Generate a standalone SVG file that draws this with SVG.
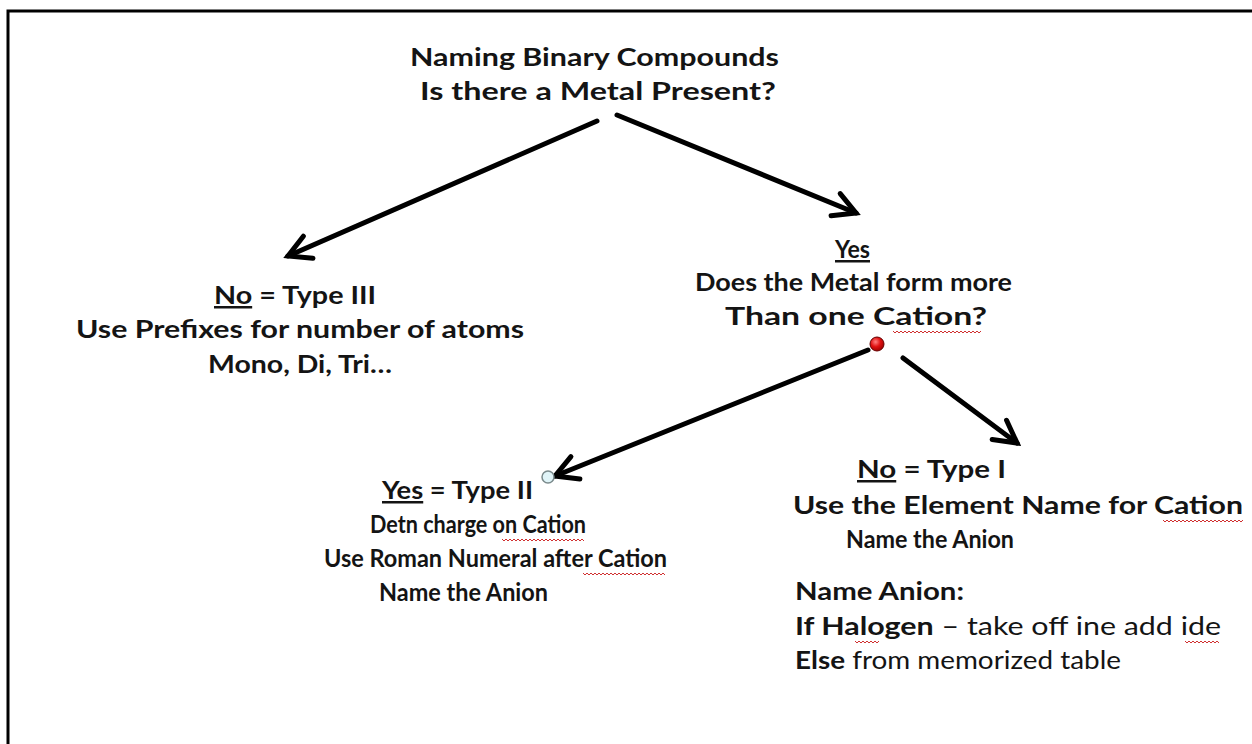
<svg xmlns="http://www.w3.org/2000/svg" width="1252" height="744" viewBox="0 0 1252 744">
<defs>
<style>
.t{font-family:Lato,"Open Sans","Liberation Sans",sans-serif;font-size:25px;font-weight:bold;fill:#141414}
.n{font-weight:normal}
.u{text-decoration:underline}
.ar{fill:none;stroke:#000;stroke-width:5;stroke-linecap:round}
.sq{fill:none;stroke:#d03030;stroke-width:1}
</style>
<marker id="ah" markerUnits="userSpaceOnUse" markerWidth="40" markerHeight="40" viewBox="-30 -20 40 40" refX="0" refY="0" orient="auto">
<path d="M-22,-12 L0,0 L-22,12" fill="none" stroke="#000" stroke-width="5" stroke-linecap="round" stroke-linejoin="miter"/>
</marker>
<radialGradient id="rg" cx="0.4" cy="0.35" r="0.7">
<stop offset="0" stop-color="#ff8080"/>
<stop offset="0.5" stop-color="#e01010"/>
<stop offset="1" stop-color="#900"/>
</radialGradient>
</defs>
<rect width="1252" height="744" fill="#fff"/>
<path d="M8,760 L8,11 L1262,11" fill="none" stroke="#000" stroke-width="3"/>

<g id="connectors">
<line class="ar" x1="597" y1="121" x2="288" y2="256" marker-end="url(#ah)"/>
<line class="ar" x1="617" y1="115" x2="856" y2="213" marker-end="url(#ah)"/>
<line class="ar" x1="868" y1="350" x2="555" y2="476" marker-end="url(#ah)"/>
<line class="ar" x1="903" y1="358" x2="1017" y2="443" marker-end="url(#ah)"/>
</g>

<g id="title">
<text class="t" x="410" y="66" textLength="369" lengthAdjust="spacingAndGlyphs">Naming Binary Compounds</text>
<text class="t" x="420" y="100" textLength="356" lengthAdjust="spacingAndGlyphs">Is there a Metal Present?</text>
</g>

<g id="node-yes">
<text class="t" x="835" y="258" textLength="35" lengthAdjust="spacingAndGlyphs"><tspan class="u">Yes</tspan></text>
<text class="t" x="695" y="291" textLength="317" lengthAdjust="spacingAndGlyphs">Does the Metal form more</text>
<text class="t" x="725" y="325" textLength="262" lengthAdjust="spacingAndGlyphs">Than one Cation?</text>
<path class="sq" d="M893,331 l2,2 l2,-2 l2,2 l2,-2 l2,2 l2,-2 l2,2 l2,-2 l2,2 l2,-2 l2,2 l2,-2 l2,2 l2,-2 l2,2 l2,-2 l2,2 l2,-2 l2,2 l2,-2 l2,2 l2,-2 l2,2 l2,-2 l2,2 l2,-2 l2,2 l2,-2 l2,2 l2,-2 l2,2 l2,-2 l2,2 l2,-2 l2,2 l2,-2 l2,2 l2,-2 l2,2 l2,-2 l2,2 l2,-2 l2,2 l2,-2"/>
<circle cx="877" cy="344" r="7" fill="url(#rg)" stroke="#600" stroke-width="1"/>
</g>

<g id="node-type3">
<text class="t" x="214" y="304" textLength="162" lengthAdjust="spacingAndGlyphs"><tspan class="u">No</tspan> = Type III</text>
<text class="t" x="76" y="338" textLength="448" lengthAdjust="spacingAndGlyphs">Use Prefixes for number of atoms</text>
<text class="t" x="208" y="373" textLength="184" lengthAdjust="spacingAndGlyphs">Mono, Di, Tri…</text>
</g>

<g id="node-type2">
<circle cx="548" cy="477" r="6" fill="#e0f4f8" stroke="#7a8a8c" stroke-width="1.5"/>
<text class="t" x="382" y="499" textLength="151" lengthAdjust="spacingAndGlyphs"><tspan class="u">Yes</tspan> = Type II</text>
<text class="t" x="370" y="533" textLength="216" lengthAdjust="spacingAndGlyphs">Detn charge on Cation</text>
<path class="sq" d="M502,539 l2,2 l2,-2 l2,2 l2,-2 l2,2 l2,-2 l2,2 l2,-2 l2,2 l2,-2 l2,2 l2,-2 l2,2 l2,-2 l2,2 l2,-2 l2,2 l2,-2 l2,2 l2,-2 l2,2 l2,-2 l2,2 l2,-2 l2,2 l2,-2 l2,2 l2,-2 l2,2 l2,-2 l2,2 l2,-2 l2,2 l2,-2 l2,2 l2,-2 l2,2 l2,-2 l2,2 l2,-2 l2,2"/>
<text class="t" x="324" y="567" textLength="343" lengthAdjust="spacingAndGlyphs">Use Roman Numeral after Cation</text>
<path class="sq" d="M583,573 l2,2 l2,-2 l2,2 l2,-2 l2,2 l2,-2 l2,2 l2,-2 l2,2 l2,-2 l2,2 l2,-2 l2,2 l2,-2 l2,2 l2,-2 l2,2 l2,-2 l2,2 l2,-2 l2,2 l2,-2 l2,2 l2,-2 l2,2 l2,-2 l2,2 l2,-2 l2,2 l2,-2 l2,2 l2,-2 l2,2 l2,-2 l2,2 l2,-2 l2,2 l2,-2 l2,2 l2,-2 l2,2"/>
<text class="t" x="379" y="601" textLength="169" lengthAdjust="spacingAndGlyphs">Name the Anion</text>
</g>

<g id="node-type1">
<text class="t" x="857" y="478" textLength="149" lengthAdjust="spacingAndGlyphs"><tspan class="u">No</tspan> = Type I</text>
<text class="t" x="793" y="514" textLength="450" lengthAdjust="spacingAndGlyphs">Use the Element Name for Cation</text>
<path class="sq" d="M1163,520 l2,2 l2,-2 l2,2 l2,-2 l2,2 l2,-2 l2,2 l2,-2 l2,2 l2,-2 l2,2 l2,-2 l2,2 l2,-2 l2,2 l2,-2 l2,2 l2,-2 l2,2 l2,-2 l2,2 l2,-2 l2,2 l2,-2 l2,2 l2,-2 l2,2 l2,-2 l2,2 l2,-2 l2,2 l2,-2 l2,2 l2,-2 l2,2 l2,-2 l2,2 l2,-2 l2,2 l2,-2"/>
<text class="t" x="846" y="548" textLength="168" lengthAdjust="spacingAndGlyphs">Name the Anion</text>
</g>

<g id="note-anion">
<text class="t" x="795" y="600" textLength="169" lengthAdjust="spacingAndGlyphs">Name Anion:</text>
<text class="t" x="795" y="635" textLength="426" lengthAdjust="spacingAndGlyphs">If Halogen<tspan class="n"> – take off ine add ide</tspan></text>
<path class="sq" d="M855,641 l2,2 l2,-2 l2,2 l2,-2 l2,2 l2,-2 l2,2 l2,-2 l2,2 l2,-2 l2,2 l2,-2"/>
<path class="sq" d="M1185,641 l2,2 l2,-2 l2,2 l2,-2 l2,2 l2,-2 l2,2 l2,-2 l2,2 l2,-2 l2,2 l2,-2 l2,2 l2,-2 l2,2 l2,-2 l2,2"/>
<text class="t" x="795" y="669" textLength="326" lengthAdjust="spacingAndGlyphs">Else<tspan class="n"> from memorized table</tspan></text>
</g>
</svg>
